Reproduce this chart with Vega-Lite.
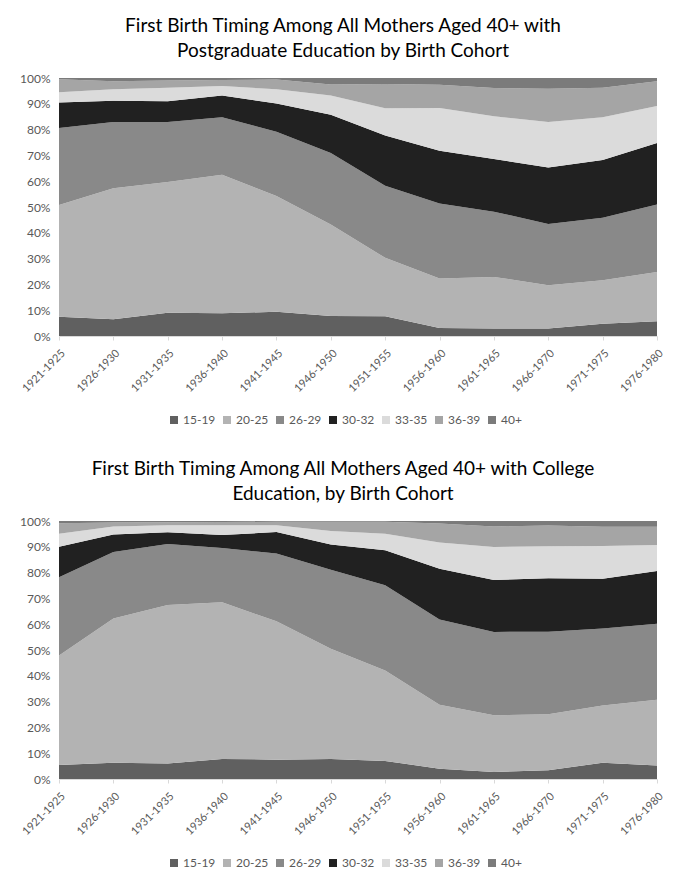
{
  "$schema": "https://vega.github.io/schema/vega-lite/v6.json",
  "background": "white",
  "padding": {"left": 9, "top": 17, "right": 28, "bottom": 10},
  "spacing": 34,
  "config": {
    "font": "Lato",
    "view": {"stroke": null},
    "title": {"fontSize": 19, "fontWeight": "normal", "color": "#000000", "lineHeight": 25, "offset": 11, "anchor": "middle", "dx": -15},
    "axis": {"labelFont": "Lato", "labelColor": "#595959", "title": null, "grid": false},
    "legend": {"orient": "none", "legendX": 109, "legendY": 336, "direction": "horizontal", "padding": 0, "title": null, "symbolType": "square", "symbolSize": 64, "symbolStrokeWidth": 0, "labelFont": "Lato", "labelFontSize": 12, "labelColor": "#595959", "labelOffset": 3, "columnPadding": 5}
  },
  "datasets": {
    "postgrad": [
      {"cohort": "1921-1925", "age": "15-19", "pct": 7.5}, {"cohort": "1921-1925", "age": "20-25", "pct": 43.3}, {"cohort": "1921-1925", "age": "26-29", "pct": 29.8}, {"cohort": "1921-1925", "age": "30-32", "pct": 9.9}, {"cohort": "1921-1925", "age": "33-35", "pct": 4.0}, {"cohort": "1921-1925", "age": "36-39", "pct": 5.0}, {"cohort": "1921-1925", "age": "40+", "pct": 0.5},
      {"cohort": "1926-1930", "age": "15-19", "pct": 6.5}, {"cohort": "1926-1930", "age": "20-25", "pct": 50.8}, {"cohort": "1926-1930", "age": "26-29", "pct": 25.6}, {"cohort": "1926-1930", "age": "30-32", "pct": 8.3}, {"cohort": "1926-1930", "age": "33-35", "pct": 4.4}, {"cohort": "1926-1930", "age": "36-39", "pct": 3.1}, {"cohort": "1926-1930", "age": "40+", "pct": 1.3},
      {"cohort": "1931-1935", "age": "15-19", "pct": 9.0}, {"cohort": "1931-1935", "age": "20-25", "pct": 50.7}, {"cohort": "1931-1935", "age": "26-29", "pct": 23.2}, {"cohort": "1931-1935", "age": "30-32", "pct": 8.1}, {"cohort": "1931-1935", "age": "33-35", "pct": 5.2}, {"cohort": "1931-1935", "age": "36-39", "pct": 2.8}, {"cohort": "1931-1935", "age": "40+", "pct": 1.0},
      {"cohort": "1936-1940", "age": "15-19", "pct": 8.8}, {"cohort": "1936-1940", "age": "20-25", "pct": 53.7}, {"cohort": "1936-1940", "age": "26-29", "pct": 22.3}, {"cohort": "1936-1940", "age": "30-32", "pct": 8.4}, {"cohort": "1936-1940", "age": "33-35", "pct": 3.7}, {"cohort": "1936-1940", "age": "36-39", "pct": 2.3}, {"cohort": "1936-1940", "age": "40+", "pct": 0.8},
      {"cohort": "1941-1945", "age": "15-19", "pct": 9.4}, {"cohort": "1941-1945", "age": "20-25", "pct": 44.9}, {"cohort": "1941-1945", "age": "26-29", "pct": 24.9}, {"cohort": "1941-1945", "age": "30-32", "pct": 10.9}, {"cohort": "1941-1945", "age": "33-35", "pct": 5.5}, {"cohort": "1941-1945", "age": "36-39", "pct": 3.8}, {"cohort": "1941-1945", "age": "40+", "pct": 0.6},
      {"cohort": "1946-1950", "age": "15-19", "pct": 7.8}, {"cohort": "1946-1950", "age": "20-25", "pct": 35.4}, {"cohort": "1946-1950", "age": "26-29", "pct": 27.7}, {"cohort": "1946-1950", "age": "30-32", "pct": 14.9}, {"cohort": "1946-1950", "age": "33-35", "pct": 7.4}, {"cohort": "1946-1950", "age": "36-39", "pct": 4.3}, {"cohort": "1946-1950", "age": "40+", "pct": 2.5},
      {"cohort": "1951-1955", "age": "15-19", "pct": 7.7}, {"cohort": "1951-1955", "age": "20-25", "pct": 22.6}, {"cohort": "1951-1955", "age": "26-29", "pct": 27.9}, {"cohort": "1951-1955", "age": "30-32", "pct": 19.5}, {"cohort": "1951-1955", "age": "33-35", "pct": 10.6}, {"cohort": "1951-1955", "age": "36-39", "pct": 9.4}, {"cohort": "1951-1955", "age": "40+", "pct": 2.3},
      {"cohort": "1956-1960", "age": "15-19", "pct": 3.1}, {"cohort": "1956-1960", "age": "20-25", "pct": 19.2}, {"cohort": "1956-1960", "age": "26-29", "pct": 29.1}, {"cohort": "1956-1960", "age": "30-32", "pct": 20.4}, {"cohort": "1956-1960", "age": "33-35", "pct": 16.6}, {"cohort": "1956-1960", "age": "36-39", "pct": 9.0}, {"cohort": "1956-1960", "age": "40+", "pct": 2.6},
      {"cohort": "1961-1965", "age": "15-19", "pct": 2.9}, {"cohort": "1961-1965", "age": "20-25", "pct": 20.0}, {"cohort": "1961-1965", "age": "26-29", "pct": 25.3}, {"cohort": "1961-1965", "age": "30-32", "pct": 20.4}, {"cohort": "1961-1965", "age": "33-35", "pct": 16.6}, {"cohort": "1961-1965", "age": "36-39", "pct": 10.9}, {"cohort": "1961-1965", "age": "40+", "pct": 3.9},
      {"cohort": "1966-1970", "age": "15-19", "pct": 2.9}, {"cohort": "1966-1970", "age": "20-25", "pct": 16.8}, {"cohort": "1966-1970", "age": "26-29", "pct": 23.7}, {"cohort": "1966-1970", "age": "30-32", "pct": 21.9}, {"cohort": "1966-1970", "age": "33-35", "pct": 17.6}, {"cohort": "1966-1970", "age": "36-39", "pct": 12.9}, {"cohort": "1966-1970", "age": "40+", "pct": 4.2},
      {"cohort": "1971-1975", "age": "15-19", "pct": 4.7}, {"cohort": "1971-1975", "age": "20-25", "pct": 16.9}, {"cohort": "1971-1975", "age": "26-29", "pct": 24.2}, {"cohort": "1971-1975", "age": "30-32", "pct": 22.4}, {"cohort": "1971-1975", "age": "33-35", "pct": 16.6}, {"cohort": "1971-1975", "age": "36-39", "pct": 11.4}, {"cohort": "1971-1975", "age": "40+", "pct": 3.8},
      {"cohort": "1976-1980", "age": "15-19", "pct": 5.7}, {"cohort": "1976-1980", "age": "20-25", "pct": 19.1}, {"cohort": "1976-1980", "age": "26-29", "pct": 26.2}, {"cohort": "1976-1980", "age": "30-32", "pct": 23.8}, {"cohort": "1976-1980", "age": "33-35", "pct": 14.3}, {"cohort": "1976-1980", "age": "36-39", "pct": 9.6}, {"cohort": "1976-1980", "age": "40+", "pct": 1.3}
    ],
    "college": [
      {"cohort": "1921-1925", "age": "15-19", "pct": 5.4}, {"cohort": "1921-1925", "age": "20-25", "pct": 42.5}, {"cohort": "1921-1925", "age": "26-29", "pct": 30.3}, {"cohort": "1921-1925", "age": "30-32", "pct": 11.8}, {"cohort": "1921-1925", "age": "33-35", "pct": 5.1}, {"cohort": "1921-1925", "age": "36-39", "pct": 4.0}, {"cohort": "1921-1925", "age": "40+", "pct": 0.9},
      {"cohort": "1926-1930", "age": "15-19", "pct": 6.3}, {"cohort": "1926-1930", "age": "20-25", "pct": 55.9}, {"cohort": "1926-1930", "age": "26-29", "pct": 25.8}, {"cohort": "1926-1930", "age": "30-32", "pct": 6.8}, {"cohort": "1926-1930", "age": "33-35", "pct": 3.1}, {"cohort": "1926-1930", "age": "36-39", "pct": 1.5}, {"cohort": "1926-1930", "age": "40+", "pct": 0.6},
      {"cohort": "1931-1935", "age": "15-19", "pct": 6.0}, {"cohort": "1931-1935", "age": "20-25", "pct": 61.4}, {"cohort": "1931-1935", "age": "26-29", "pct": 23.7}, {"cohort": "1931-1935", "age": "30-32", "pct": 4.5}, {"cohort": "1931-1935", "age": "33-35", "pct": 2.8}, {"cohort": "1931-1935", "age": "36-39", "pct": 1.1}, {"cohort": "1931-1935", "age": "40+", "pct": 0.5},
      {"cohort": "1936-1940", "age": "15-19", "pct": 7.8}, {"cohort": "1936-1940", "age": "20-25", "pct": 60.7}, {"cohort": "1936-1940", "age": "26-29", "pct": 21.0}, {"cohort": "1936-1940", "age": "30-32", "pct": 5.1}, {"cohort": "1936-1940", "age": "33-35", "pct": 3.8}, {"cohort": "1936-1940", "age": "36-39", "pct": 1.2}, {"cohort": "1936-1940", "age": "40+", "pct": 0.4},
      {"cohort": "1941-1945", "age": "15-19", "pct": 7.5}, {"cohort": "1941-1945", "age": "20-25", "pct": 53.6}, {"cohort": "1941-1945", "age": "26-29", "pct": 26.3}, {"cohort": "1941-1945", "age": "30-32", "pct": 8.3}, {"cohort": "1941-1945", "age": "33-35", "pct": 2.7}, {"cohort": "1941-1945", "age": "36-39", "pct": 1.3}, {"cohort": "1941-1945", "age": "40+", "pct": 0.3},
      {"cohort": "1946-1950", "age": "15-19", "pct": 7.8}, {"cohort": "1946-1950", "age": "20-25", "pct": 42.7}, {"cohort": "1946-1950", "age": "26-29", "pct": 30.6}, {"cohort": "1946-1950", "age": "30-32", "pct": 9.8}, {"cohort": "1946-1950", "age": "33-35", "pct": 5.2}, {"cohort": "1946-1950", "age": "36-39", "pct": 3.6}, {"cohort": "1946-1950", "age": "40+", "pct": 0.3},
      {"cohort": "1951-1955", "age": "15-19", "pct": 7.0}, {"cohort": "1951-1955", "age": "20-25", "pct": 35.1}, {"cohort": "1951-1955", "age": "26-29", "pct": 33.0}, {"cohort": "1951-1955", "age": "30-32", "pct": 13.6}, {"cohort": "1951-1955", "age": "33-35", "pct": 6.4}, {"cohort": "1951-1955", "age": "36-39", "pct": 4.6}, {"cohort": "1951-1955", "age": "40+", "pct": 0.3},
      {"cohort": "1956-1960", "age": "15-19", "pct": 4.0}, {"cohort": "1956-1960", "age": "20-25", "pct": 24.8}, {"cohort": "1956-1960", "age": "26-29", "pct": 33.0}, {"cohort": "1956-1960", "age": "30-32", "pct": 19.7}, {"cohort": "1956-1960", "age": "33-35", "pct": 10.2}, {"cohort": "1956-1960", "age": "36-39", "pct": 7.3}, {"cohort": "1956-1960", "age": "40+", "pct": 1.0},
      {"cohort": "1961-1965", "age": "15-19", "pct": 2.7}, {"cohort": "1961-1965", "age": "20-25", "pct": 22.0}, {"cohort": "1961-1965", "age": "26-29", "pct": 32.3}, {"cohort": "1961-1965", "age": "30-32", "pct": 20.1}, {"cohort": "1961-1965", "age": "33-35", "pct": 12.8}, {"cohort": "1961-1965", "age": "36-39", "pct": 8.0}, {"cohort": "1961-1965", "age": "40+", "pct": 2.1},
      {"cohort": "1966-1970", "age": "15-19", "pct": 3.4}, {"cohort": "1966-1970", "age": "20-25", "pct": 21.7}, {"cohort": "1966-1970", "age": "26-29", "pct": 32.0}, {"cohort": "1966-1970", "age": "30-32", "pct": 20.7}, {"cohort": "1966-1970", "age": "33-35", "pct": 12.4}, {"cohort": "1966-1970", "age": "36-39", "pct": 8.1}, {"cohort": "1966-1970", "age": "40+", "pct": 1.7},
      {"cohort": "1971-1975", "age": "15-19", "pct": 6.3}, {"cohort": "1971-1975", "age": "20-25", "pct": 22.2}, {"cohort": "1971-1975", "age": "26-29", "pct": 29.8}, {"cohort": "1971-1975", "age": "30-32", "pct": 19.3}, {"cohort": "1971-1975", "age": "33-35", "pct": 12.7}, {"cohort": "1971-1975", "age": "36-39", "pct": 7.5}, {"cohort": "1971-1975", "age": "40+", "pct": 2.2},
      {"cohort": "1976-1980", "age": "15-19", "pct": 5.2}, {"cohort": "1976-1980", "age": "20-25", "pct": 25.5}, {"cohort": "1976-1980", "age": "26-29", "pct": 29.5}, {"cohort": "1976-1980", "age": "30-32", "pct": 20.4}, {"cohort": "1976-1980", "age": "33-35", "pct": 10.1}, {"cohort": "1976-1980", "age": "36-39", "pct": 7.1}, {"cohort": "1976-1980", "age": "40+", "pct": 2.2}
    ]
  },
  "resolve": {"legend": {"color": "independent"}, "scale": {"color": "independent"}},
  "vconcat": [
    {
      "title": {"text": ["First Birth Timing Among All Mothers Aged 40+ with", "Postgraduate Education by Birth Cohort"]},
      "width": 598,
      "height": 258,
      "data": {"name": "postgrad"},
      "mark": {"type": "area", "interpolate": "linear"},
      "encoding": {
        "x": {"field": "cohort", "type": "ordinal", "scale": {"type": "point", "padding": 0}, "axis": {"labelAngle": -45, "labelFontSize": 11, "labelAlign": "right", "labelBaseline": "top", "labelPadding": 7, "domainColor": "#d9d9d9", "tickColor": "#d9d9d9", "tickSize": 4}},
        "y": {"field": "pct", "type": "quantitative", "stack": "normalize", "axis": {"format": ".0%", "values": [0, 0.1, 0.2, 0.3, 0.4, 0.5, 0.6, 0.7, 0.8, 0.9, 1], "labelFontSize": 12, "domain": false, "ticks": false, "labelPadding": 9, "minExtent": 50, "maxExtent": 50}},
        "color": {"field": "age", "type": "nominal", "scale": {"domain": ["15-19", "20-25", "26-29", "30-32", "33-35", "36-39", "40+"], "range": ["#606060", "#b3b3b3", "#898989", "#212121", "#dbdbdb", "#a5a5a5", "#7b7b7b"]}},
        "order": {"field": "age", "sort": "ascending"}
      }
    },
    {
      "title": {"text": ["First Birth Timing Among All Mothers Aged 40+ with College", "Education, by Birth Cohort"]},
      "width": 598,
      "height": 258,
      "data": {"name": "college"},
      "mark": {"type": "area", "interpolate": "linear"},
      "encoding": {
        "x": {"field": "cohort", "type": "ordinal", "scale": {"type": "point", "padding": 0}, "axis": {"labelAngle": -45, "labelFontSize": 11, "labelAlign": "right", "labelBaseline": "top", "labelPadding": 7, "domainColor": "#d9d9d9", "tickColor": "#d9d9d9", "tickSize": 4}},
        "y": {"field": "pct", "type": "quantitative", "stack": "normalize", "axis": {"format": ".0%", "values": [0, 0.1, 0.2, 0.3, 0.4, 0.5, 0.6, 0.7, 0.8, 0.9, 1], "labelFontSize": 12, "domain": false, "ticks": false, "labelPadding": 9, "minExtent": 50, "maxExtent": 50}},
        "color": {"field": "age", "type": "nominal", "scale": {"domain": ["15-19", "20-25", "26-29", "30-32", "33-35", "36-39", "40+"], "range": ["#606060", "#b3b3b3", "#898989", "#212121", "#dbdbdb", "#a5a5a5", "#7b7b7b"]}},
        "order": {"field": "age", "sort": "ascending"}
      }
    }
  ]
}
